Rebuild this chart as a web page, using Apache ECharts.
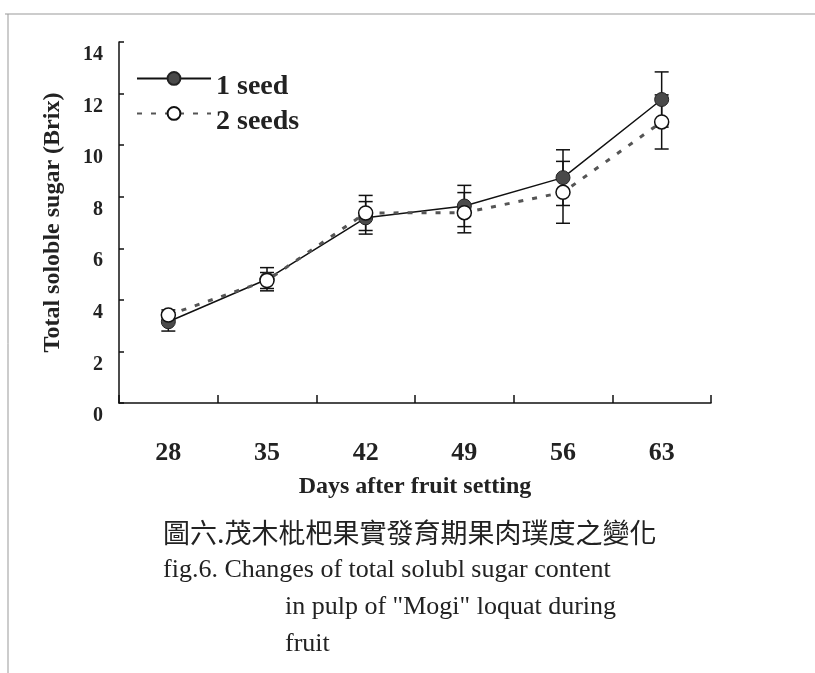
<!DOCTYPE html>
<html>
<head>
<meta charset="utf-8">
<script src="https://cdn.jsdelivr.net/npm/echarts@6/dist/echarts.min.js"></script>
<style>html,body{margin:0;padding:0;background:#fff;}#c{width:815px;height:673px;}</style>
</head>
<body>
<div id="c"></div>
<script>
const days = ['28', '35', '42', '49', '56', '63'];
const seed1 = [3.15, 4.8, 7.18, 7.64, 8.74, 11.77];
const seed1Err = [0.36, 0.45, 0.63, 0.8, 1.08, 1.07];
const seed2 = [3.41, 4.75, 7.37, 7.38, 8.17, 10.9];
const seed2Err = [0.2, 0.31, 0.68, 0.78, 1.2, 1.05];
const yTicks = [0, 2, 4, 6, 8, 10, 12, 14];
const seriesNames = ['1 seed', '2 seeds'];
const captionZh = '圖六.茂木枇杷果實發育期果肉璞度之變化';
const captionEn1 = 'fig.6. Changes of total solubl sugar content';
const captionEn2 = 'in pulp of "Mogi" loquat during';
const captionEn3 = 'fruit';

const serif = '"Liberation Serif", "Times New Roman", serif';
const chart = echarts.init(document.getElementById('c'), null, {renderer: 'canvas'});

const errData = (vals, errs) => vals.map((v, i) => [i, v - errs[i], v + errs[i]]);

function errRender(params, api) {
  const lo = api.coord([api.value(0), api.value(1)]);
  const hi = api.coord([api.value(0), api.value(2)]);
  const w = 7;
  const st = {stroke: '#111', lineWidth: 1.5};
  return {
    type: 'group',
    children: [
      {type: 'line', shape: {x1: hi[0], y1: hi[1], x2: lo[0], y2: lo[1]}, style: st},
      {type: 'line', shape: {x1: hi[0] - w, y1: hi[1], x2: hi[0] + w, y2: hi[1]}, style: st},
      {type: 'line', shape: {x1: lo[0] - w, y1: lo[1], x2: lo[0] + w, y2: lo[1]}, style: st}
    ]
  };
}

const legendBase = {
  orient: 'vertical', left: 131, itemWidth: 74, itemHeight: 16, itemGap: 0, selectedMode: false,
  formatter: name => '{t|' + name + '}',
  textStyle: {
    rich: {t: {fontFamily: serif, fontWeight: 'bold', fontSize: 28, color: '#222', padding: [17, 0, 0, 0]}}
  }
};

const option = {
  backgroundColor: '#fff',
  animation: false,
  grid: {left: 119, right: 104, top: 42, bottom: 270, containLabel: false},
  legend: [
    Object.assign({data: [seriesNames[0]], top: 66}, legendBase),
    Object.assign({data: [seriesNames[1]], top: 101}, legendBase)
  ],
  xAxis: {
    type: 'category',
    data: days,
    boundaryGap: true,
    axisLine: {show: true, lineStyle: {color: '#111', width: 1.5}},
    axisTick: {show: true, inside: true, length: 8, interval: 0, alignWithLabel: false, lineStyle: {color: '#111', width: 1.5}},
    axisLabel: {margin: 37, fontFamily: serif, fontWeight: 'bold', fontSize: 26, color: '#222'},
    name: 'Days after fruit setting',
    nameLocation: 'middle',
    nameGap: 72,
    nameTextStyle: {fontFamily: serif, fontWeight: 'bold', fontSize: 24, color: '#222'},
    splitLine: {show: false}
  },
  yAxis: {
    type: 'value',
    min: yTicks[0],
    max: yTicks[yTicks.length - 1],
    interval: yTicks[1] - yTicks[0],
    axisLine: {show: true, lineStyle: {color: '#111', width: 1.5}},
    axisTick: {show: true, inside: true, length: 5, lineStyle: {color: '#111', width: 1.5}},
    axisLabel: {margin: 16, verticalAlign: 'top', padding: [3, 0, 0, 0], fontFamily: serif, fontWeight: 'bold', fontSize: 20, color: '#222'},
    splitLine: {show: false},
    name: 'Total soloble sugar (Brix)',
    nameLocation: 'middle',
    nameGap: 54,
    nameTextStyle: {fontFamily: serif, fontWeight: 'bold', fontSize: 24, color: '#222'}
  },
  series: [
    {
      type: 'custom', name: 'err1', z: 1, renderItem: errRender,
      data: errData(seed1, seed1Err), encode: {x: 0, y: [1, 2]}, silent: true
    },
    {
      type: 'custom', name: 'err2', z: 1, renderItem: errRender,
      data: errData(seed2, seed2Err), encode: {x: 0, y: [1, 2]}, silent: true
    },
    {
      name: seriesNames[0], type: 'line', data: seed1, z: 3,
      symbol: 'circle', symbolSize: 14, showAllSymbol: true,
      lineStyle: {color: '#111', width: 1.5},
      itemStyle: {color: '#4a4a4a', borderColor: '#222', borderWidth: 1}
    },
    {
      name: seriesNames[1], type: 'line', data: seed2, z: 4,
      symbol: 'circle', symbolSize: 14, showAllSymbol: true,
      lineStyle: {color: '#555', width: 3, type: [5, 9]},
      itemStyle: {color: '#fff', borderColor: '#111', borderWidth: 1.5}
    }
  ],
  graphic: [
    {type: 'line', shape: {x1: 5, y1: 14, x2: 815, y2: 14}, style: {stroke: '#999', lineWidth: 1}, silent: true},
    {type: 'line', shape: {x1: 8, y1: 14, x2: 8, y2: 673}, style: {stroke: '#999', lineWidth: 1}, silent: true},
    {type: 'text', x: 163, y: 533, style: {text: captionZh, font: '27px "Noto Sans CJK TC"', fill: '#222', verticalAlign: 'middle'}},
    {type: 'text', x: 163, y: 570, style: {text: captionEn1, font: '26px ' + serif, fill: '#222', verticalAlign: 'middle'}},
    {type: 'text', x: 285, y: 607, style: {text: captionEn2, font: '26px ' + serif, fill: '#222', verticalAlign: 'middle'}},
    {type: 'text', x: 285, y: 644, style: {text: captionEn3, font: '26px ' + serif, fill: '#222', verticalAlign: 'middle'}}
  ]
};
chart.setOption(option);
</script>
</body>
</html>
